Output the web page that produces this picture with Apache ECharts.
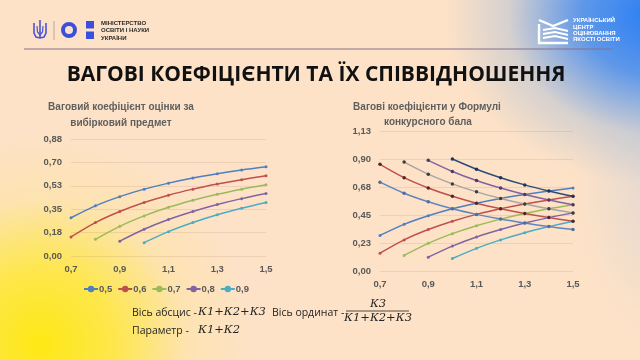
<!DOCTYPE html>
<html><head><meta charset="utf-8">
<script src="https://cdn.jsdelivr.net/npm/echarts@6/dist/echarts.min.js"></script>
<style>
html,body{margin:0;padding:0;}
body{width:640px;height:360px;overflow:hidden;
background:
 radial-gradient(ellipse 210px 210px at 40px 345px, rgba(254,232,20,1) 0%, rgba(254,232,40,0.78) 35%, rgba(253,230,120,0.28) 70%, rgba(253,227,200,0) 100%),
 radial-gradient(ellipse 210px 170px at 655px 15px, rgba(40,125,245,1) 0%, rgba(60,135,240,0.82) 35%, rgba(150,180,220,0.38) 70%, rgba(253,227,200,0) 100%),
 radial-gradient(ellipse 90px 170px at 665px 170px, rgba(160,190,235,0.3) 0%, rgba(253,227,200,0) 100%),
 #fde2c7;}
#c{width:640px;height:360px;}
</style></head><body><div id="c"></div>
<script>
var xCategories = ['0,7','0,8','0,9','1,0','1,1','1,2','1,3','1,4','1,5'];
var paramNames = ['0,5','0,6','0,7','0,8','0,9'];
var leftYTicks = ['0,00','0,18','0,35','0,53','0,70','0,88'];
var rightYTicks = ['0,00','0,23','0,45','0,68','0,90','1,13'];
// rising curves: weight of the chosen subject
var rise05 = [0.286,0.375,0.444,0.500,0.545,0.583,0.615,0.643,0.667];
var rise06 = [0.143,0.250,0.333,0.400,0.455,0.500,0.538,0.571,0.600];
var rise07 = [null,0.125,0.222,0.300,0.364,0.417,0.462,0.500,0.533];
var rise08 = [null,null,0.111,0.200,0.273,0.333,0.385,0.429,0.467];
var rise09 = [null,null,null,0.100,0.182,0.250,0.308,0.357,0.400];
// falling curves (right chart)
var fall05 = [0.714,0.625,0.556,0.500,0.455,0.417,0.385,0.357,0.333];
var fall06 = [0.857,0.750,0.667,0.600,0.545,0.500,0.462,0.429,0.400];
var fall07 = [null,0.875,0.778,0.700,0.636,0.583,0.538,0.500,0.467];
var fall08 = [null,null,0.889,0.800,0.727,0.667,0.615,0.571,0.533];
var fall09 = [null,null,null,0.900,0.818,0.750,0.692,0.643,0.600];

var riseData = [rise05,rise06,rise07,rise08,rise09];
var fallData = [fall05,fall06,fall07,fall08,fall09];
var riseColors = ['#4f7fbf','#c0504d','#9bbb59','#8064a2','#4bacc6'];
var fallColors = ['#5f86c0','#c0504d','#a5a5a5','#8064a2','#2c4d75'];
var fallMarker = ['#4a6ea5','#4a2a28','#3c3c3c','#4a3a66','#1f3550'];

var labelColor = '#595959';
function mkX(gi){return {type:'category',gridIndex:gi,data:xCategories,boundaryGap:false,
  axisLine:{show:false},axisTick:{show:false},
  axisLabel:{interval:1,color:labelColor,fontSize:9.5,fontWeight:'bold',fontFamily:'Liberation Sans',margin:8}};}
function mkY(gi,max,interval,ticks){return {type:'value',gridIndex:gi,min:0,max:max,interval:interval,
  axisLine:{show:false},axisTick:{show:false},
  splitLine:{lineStyle:{color:'rgba(150,110,80,0.15)',width:1}},
  axisLabel:{color:labelColor,fontSize:9.5,fontWeight:'bold',fontFamily:'Liberation Sans',margin:9,
    formatter:function(v,i){return ticks[i];}}};}

var series = [];
riseData.forEach(function(d,i){
  series.push({name:paramNames[i],type:'line',xAxisIndex:0,yAxisIndex:0,data:d,smooth:0.3,
    symbol:'circle',symbolSize:3,showSymbol:true,color:riseColors[i],
    lineStyle:{width:1.5,color:riseColors[i]},itemStyle:{color:riseColors[i]}});
});
riseData.forEach(function(d,i){
  series.push({name:'r'+paramNames[i],type:'line',xAxisIndex:1,yAxisIndex:1,data:d,smooth:0.3,
    symbol:'circle',symbolSize:3,color:riseColors[i],
    lineStyle:{width:1.5,color:riseColors[i]},itemStyle:{color:riseColors[i]}});
});
fallData.forEach(function(d,i){
  series.push({name:'f'+paramNames[i],type:'line',xAxisIndex:1,yAxisIndex:1,data:d,smooth:0.3,
    symbol:'circle',symbolSize:3.5,color:fallColors[i],
    lineStyle:{width:1.5,color:fallColors[i]},itemStyle:{color:fallMarker[i]}});
});

var sansTxt = {fontFamily:'Liberation Sans',fontWeight:'bold',fill:'#5f5f5f',fontSize:10,textAlign:'center',textVerticalAlign:'middle'};
function T(x,y,txt,st){return {type:'text',x:x,y:y,style:Object.assign({text:txt,textVerticalAlign:'middle'},st),silent:true};}
function PL(pts,st){return {type:'polyline',shape:{points:pts},style:st,silent:true};}

var blue = '#4a55d6';
var logoTxt = {fontFamily:'Liberation Sans',fontWeight:'bold',fill:'#2a2a2a',fontSize:6};
var ucTxt = {fontFamily:'Liberation Sans',fontWeight:'bold',fill:'#ffffff',fontSize:6};
var body = {fontFamily:'Open Sans',fill:'#262626',fontSize:10.5};
var math = {fontFamily:'DejaVu Serif',fontStyle:'italic',fill:'#262626',fontSize:11.5};
var graphics = [
  {type:'line',shape:{x1:24,y1:49,x2:612,y2:49},style:{stroke:'#86708c',lineWidth:1}},
  // trident (simplified)
  PL([[40,20],[40,38]],{stroke:blue,lineWidth:1.6,fill:null}),
  PL([[34,23],[34,33],[36,37],[40,38],[44,37],[46,33],[46,23]],{stroke:blue,lineWidth:1.6,fill:null}),
  PL([[37,26],[37.5,32],[40,35],[42.5,32],[43,26]],{stroke:blue,lineWidth:1.2,fill:null}),
  {type:'line',shape:{x1:54,y1:21,x2:54,y2:40},style:{stroke:'#b9a7a0',lineWidth:1}},
  {type:'circle',shape:{cx:69,cy:30,r:6},style:{stroke:'#3a4fe0',lineWidth:4,fill:null}},
  {type:'rect',shape:{x:86,y:21,width:8,height:7.5},style:{fill:'#3a4fe0'}},
  {type:'rect',shape:{x:86,y:31.5,width:8,height:7.5},style:{fill:'#3a4fe0'}},
  T(101,23,'МІНІСТЕРСТВО',logoTxt),
  T(101,30.5,'ОСВІТИ І НАУКИ',logoTxt),
  T(101,38,'УКРАЇНИ',logoTxt),
  // UCEQA logo (simplified)
  PL([[539,20],[553,26],[568,20]],{stroke:'#ffffff',lineWidth:2.4,fill:null}),
  PL([[539,24],[539,43],[568,43]],{stroke:'#ffffff',lineWidth:2.4,fill:null}),
  PL([[543,30],[555,28],[568,31]],{stroke:'#ffffff',lineWidth:1.8,fill:null}),
  PL([[543,34],[555,32],[568,35]],{stroke:'#ffffff',lineWidth:1.8,fill:null}),
  PL([[543,38],[555,36],[568,39]],{stroke:'#ffffff',lineWidth:1.8,fill:null}),
  T(573,20.7,'УКРАЇНСЬКИЙ',ucTxt),
  T(573,27,'ЦЕНТР',ucTxt),
  T(573,33.2,'ОЦІНЮВАННЯ',ucTxt),
  T(573,39.5,'ЯКОСТІ ОСВІТИ',ucTxt),
  T(316,75,'ВАГОВІ КОЕФІЦІЄНТИ ТА ЇХ СПІВВІДНОШЕННЯ',{fontFamily:'Open Sans',fontWeight:'bold',fill:'#111111',fontSize:21,textAlign:'center'}),
  T(121,107,'Ваговий коефіцієнт оцінки за',sansTxt),
  T(121,123,'вибірковий предмет',sansTxt),
  T(427,107,'Вагові коефіцієнти у Формулі',sansTxt),
  T(428,122,'конкурсного бала',sansTxt),
  T(132,313,'Вісь абсцис - ',body),
  T(198,312,'К1+К2+К3',math),
  T(272,313,'Вісь ординат - ',body),
  T(378,304,'К3',Object.assign({textAlign:'center'},math)),
  {type:'line',shape:{x1:346,y1:311,x2:409,y2:311},style:{stroke:'#262626',lineWidth:0.8}},
  T(378,318,'К1+К2+К3',Object.assign({textAlign:'center'},math)),
  T(132,331,'Параметр - ',body),
  T(198,330,'К1+К2',math)
];

var chart = echarts.init(document.getElementById('c'),null,{renderer:'canvas'});
chart.setOption({
  backgroundColor:'transparent',
  animation:false,
  grid:[{left:71,top:139,width:195,height:117},{left:380,top:131,width:193,height:140}],
  xAxis:[mkX(0),mkX(1)],
  yAxis:[mkY(0,0.875,0.175,leftYTicks),mkY(1,1.125,0.225,rightYTicks)],
  legend:{data:paramNames,left:78,top:279,itemWidth:14,itemHeight:8,itemGap:5,
    textStyle:{color:labelColor,fontSize:9.5,fontWeight:'bold',fontFamily:'Liberation Sans',padding:[0,0,0,-4]}},
  series:series,
  graphic:graphics
});
</script></body></html>
